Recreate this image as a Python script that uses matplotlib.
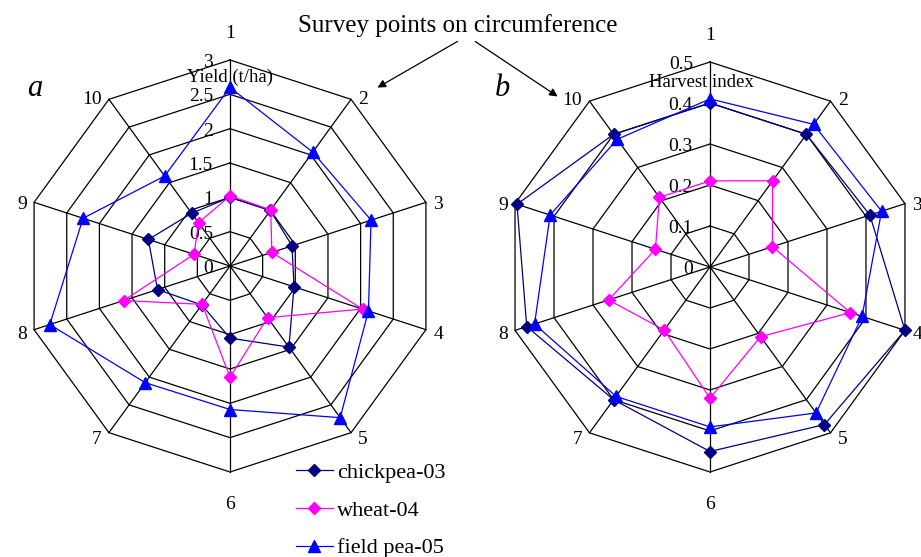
import numpy as np
import matplotlib.pyplot as plt

plt.rcParams['font.family'] = ['Liberation Serif', 'DejaVu Serif']

points = [str(i) for i in range(1, 11)]

# yield (t/ha), panel a
yield_chickpea = [1.0, 1.0, 0.95, 0.98, 1.46, 1.05, 0.70, 1.11, 1.25, 0.95]
yield_wheat = [1.02, 1.01, 0.64, 2.03, 0.93, 1.62, 0.69, 1.63, 0.55, 0.78]
yield_fieldpea = [2.6, 2.05, 2.16, 2.12, 2.73, 2.09, 2.10, 2.76, 2.25, 1.62]
yield_ticks = [0, 0.5, 1, 1.5, 2, 2.5, 3]
yield_ticklabels = ['0', '0.5', '1', '1.5', '2', '2.5', '3']

# harvest index, panel b
hi_chickpea = [0.40, 0.40, 0.41, 0.50, 0.475, 0.45, 0.40, 0.47, 0.495, 0.40]
hi_wheat = [0.21, 0.26, 0.16, 0.36, 0.21, 0.32, 0.19, 0.26, 0.14, 0.21]
hi_fieldpea = [0.41, 0.43, 0.44, 0.39, 0.44, 0.39, 0.39, 0.45, 0.41, 0.385]
hi_ticks = [0, 0.1, 0.2, 0.3, 0.4, 0.5]
hi_ticklabels = ['0', '0.1', '0.2', '0.3', '0.4', '0.5']

names = ['chickpea-03', 'wheat-04', 'field pea-05']
colors = ['#000080', '#FF00FF', '#0000FF']
markers = ['D', 'D', '^']
msizes = [6.5, 6.5, 8]

W, H = 921, 557
fig = plt.figure(figsize=(W/100, H/100), dpi=100)


def make_ax(cx, cy, rpx, rmax):
    half = 228
    ax = fig.add_axes([(cx-half)/W, (H-cy-half)/H, 2*half/W, 2*half/H])
    lim = half*rmax/rpx
    ax.set_xlim(-lim, lim)
    ax.set_ylim(-lim, lim)
    ax.axis('off')
    return ax


def radar(ax, ticks, ticklabels, series):
    rmax = ticks[-1]
    ang = np.deg2rad(np.arange(10)*36)
    sx, cy = np.sin(ang), np.cos(ang)
    for t in ticks[1:]:
        ax.plot(np.r_[sx, sx[0]]*t, np.r_[cy, cy[0]]*t, color='k', lw=0.9, zorder=1)
    for i in range(10):
        ax.plot([0, sx[i]*rmax], [0, cy[i]*rmax], color='k', lw=0.9, zorder=1)
    for t, lab in zip(ticks, ticklabels):
        ax.text(-0.083*rmax, t - 0.012*rmax, lab, ha='right', va='center', fontsize=14, zorder=2)
    for i in range(10):
        if abs(cy[i]) > 0.99:
            ax.text(0, (cy[i]*1.145 - 0.015)*rmax, points[i], ha='center', va='center', fontsize=14)
        else:
            side = np.sign(sx[i])
            ax.text((sx[i] + 0.035*side)*rmax, (cy[i]*1.02 - 0.015)*rmax, points[i],
                    ha='left' if side > 0 else 'right', va='center', fontsize=14)
    lines = []
    for vals, name, c, m, ms in zip(series, names, colors, markers, msizes):
        v = np.array(vals)
        ln, = ax.plot(np.r_[sx*v, sx[0]*v[0]], np.r_[cy*v, cy[0]*v[0]], color=c, lw=0.9,
                      marker=m, ms=ms, markevery=list(range(10)), label=name, zorder=3)
        lines.append(ln)
    return lines


ax1 = make_ax(230, 266, 206, 3)
lines = radar(ax1, yield_ticks, yield_ticklabels, [yield_chickpea, yield_wheat, yield_fieldpea])

ax2 = make_ax(710, 267, 205, 0.5)
radar(ax2, hi_ticks, hi_ticklabels, [hi_chickpea, hi_wheat, hi_fieldpea])

fig.text(230/W, 1-77/H, 'Yield (t/ha)', ha='center', va='center', fontsize=13.5)
fig.text(701/W, 1-82/H, 'Harvest index', ha='center', va='center', fontsize=13.5)
fig.text(35/W, 1-88/H, 'a', ha='center', va='center', fontsize=22, style='italic')
fig.text(502/W, 1-88/H, 'b', ha='center', va='center', fontsize=22, style='italic')
fig.text(458/W, 1-26/H, 'Survey points on circumference', ha='center', va='center', fontsize=18)

for start, end in [((460, 40), (375, 89)), ((473, 40), (560, 98))]:
    ax1.annotate('', xy=(end[0]/W, 1-end[1]/H), xytext=(start[0]/W, 1-start[1]/H),
                 xycoords='figure fraction', textcoords='figure fraction',
                 arrowprops=dict(arrowstyle='-|>', color='k', lw=0.9, mutation_scale=12))

ax1.legend(handles=lines, loc='upper left', bbox_to_anchor=(285/W, 1-451/H),
           bbox_transform=fig.transFigure, frameon=False, fontsize=16,
           handlelength=1.65, handletextpad=0.2, labelspacing=0.78, borderpad=0)

fig.savefig('out.png', dpi=100)
